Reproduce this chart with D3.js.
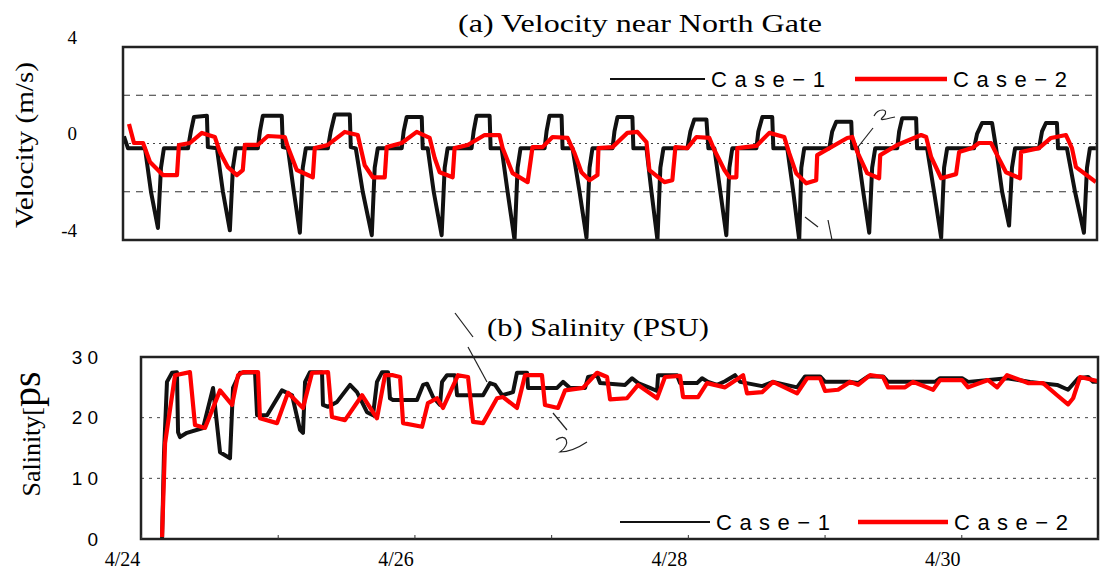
<!DOCTYPE html>
<html>
<head>
<meta charset="utf-8">
<script src="https://cdn.jsdelivr.net/npm/d3@7"></script>
<style>
  body { margin: 0; background: #fff; }
  svg { display: block; }
</style>
</head>
<body>
<script>
// values, x = days after 4/24 00:00
const velCase1 = [[0.007,0.3],[0.036,-0.2],[0.158,-0.2],[0.201,-2.0],[0.251,-3.5],[0.273,-1.0],[0.294,-0.2],
  [0.467,-0.2],[0.488,0.5],[0.510,1.1],[0.603,1.15],[0.610,-0.15],[0.675,-0.2],[0.718,-2.0],[0.768,-3.6],[0.790,-1.0],[0.811,-0.2],
  [0.969,-0.2],[0.984,0.5],[1.005,1.15],[1.141,1.15],[1.149,-0.15],[1.185,-0.2],[1.228,-2.0],[1.271,-3.7],[1.292,-1.0],[1.314,-0.2],
  [1.472,-0.2],[1.493,0.5],[1.522,1.2],[1.630,1.2],[1.637,-0.15],[1.673,-0.2],[1.723,-2.0],[1.788,-3.8],[1.809,-1.0],[1.831,-0.2],
  [2.003,-0.2],[2.017,0.5],[2.039,1.1],[2.147,1.1],[2.154,-0.2],[2.190,-0.2],[2.233,-2.0],[2.290,-3.8],[2.312,-1.0],[2.333,-0.2],
  [2.505,-0.2],[2.520,0.5],[2.541,1.15],[2.635,1.15],[2.642,-0.2],[2.721,-0.2],[2.764,-2.0],[2.814,-4.0],[2.836,-1.0],[2.857,-0.2],
  [3.030,-0.2],[3.044,0.5],[3.065,1.15],[3.152,1.15],[3.159,-0.2],[3.231,-0.2],[3.281,-2.0],[3.331,-3.9],[3.353,-1.0],[3.374,-0.2],
  [3.518,-0.2],[3.532,0.5],[3.554,1.1],[3.661,1.1],[3.668,-0.2],[3.762,-0.2],[3.798,-2.0],[3.841,-4.0],[3.862,-1.0],[3.884,-0.2],
  [4.056,-0.2],[4.078,0.5],[4.106,1.0],[4.193,1.0],[4.207,-0.2],[4.250,-0.2],[4.293,-2.0],[4.336,-3.8],[4.358,-1.0],[4.379,-0.2],
  [4.552,-0.2],[4.566,0.5],[4.595,1.1],[4.666,1.1],[4.674,-0.2],[4.774,-0.2],[4.817,-2.0],[4.860,-4.0],[4.875,-1.0],[4.896,-0.2],
  [5.076,-0.2],[5.097,0.5],[5.126,0.9],[5.234,0.9],[5.241,-0.2],[5.277,-0.2],[5.320,-2.0],[5.363,-3.7],[5.384,-1.0],[5.406,-0.2],
  [5.564,-0.2],[5.578,0.5],[5.600,1.05],[5.700,1.05],[5.707,-0.2],[5.779,-0.2],[5.829,-2.0],[5.880,-3.9],[5.901,-1.0],[5.923,-0.2],
  [6.116,-0.2],[6.138,0.4],[6.174,0.85],[6.246,0.85],[6.275,-0.2],[6.318,-2.0],[6.368,-3.4],[6.389,-1.0],[6.411,-0.2],
  [6.583,-0.2],[6.605,0.5],[6.633,0.85],[6.712,0.85],[6.720,-0.2],[6.784,-0.2],[6.842,-2.0],[6.906,-3.7],[6.928,-1.0],[6.949,-0.2],[6.992,-0.2]];

const velCase2 = [[0.043,0.81],[0.079,0.02],[0.144,0.02],[0.194,-0.77],[0.287,-1.31],[0.388,-1.31],[0.402,-0.06],[0.481,0.02],
  [0.567,0.44],[0.660,0.27],[0.696,-0.35],[0.754,-0.98],[0.818,-1.31],[0.861,-1.1],[0.876,-0.06],[0.969,-0.06],[1.041,0.31],
  [1.163,0.27],[1.185,-0.15],[1.249,-1.1],[1.364,-1.4],[1.378,-0.19],[1.472,-0.06],[1.594,0.48],[1.687,0.35],[1.737,-0.9],
  [1.795,-1.4],[1.881,-1.4],[1.895,-0.15],[2.003,0.02],[2.111,0.48],[2.204,0.23],[2.240,-0.6],[2.276,-1.19],[2.369,-1.4],
  [2.383,-0.19],[2.477,-0.06],[2.599,0.35],[2.706,0.35],[2.728,-0.19],[2.800,-1.23],[2.908,-1.6],[2.943,-0.15],[3.015,-0.15],
  [3.087,0.27],[3.195,0.23],[3.245,-0.4],[3.295,-1.19],[3.353,-1.52],[3.410,-1.31],[3.417,-0.19],[3.518,-0.15],[3.625,0.44],
  [3.697,0.48],[3.762,0.06],[3.783,-1.1],[3.891,-1.6],[3.948,-1.52],[3.970,-0.15],[4.056,-0.19],[4.121,0.27],[4.214,0.23],
  [4.250,-0.27],[4.322,-1.1],[4.358,-1.4],[4.408,-1.4],[4.415,-0.19],[4.552,-0.1],[4.645,0.44],[4.752,0.27],[4.788,-0.4],
  [4.838,-1.23],[4.910,-1.65],[4.982,-1.52],[4.989,-0.48],[5.205,0.23],[5.241,0.27],[5.277,-0.35],[5.348,-1.23],[5.434,-1.44],
  [5.442,-0.48],[5.564,-0.06],[5.736,0.35],[5.772,0.27],[5.808,-0.56],[5.880,-1.44],[5.987,-1.27],[6.009,-0.35],[6.102,-0.19],
  [6.152,0.02],[6.238,0.02],[6.275,-0.4],[6.346,-1.19],[6.447,-1.44],[6.454,-0.35],[6.583,-0.19],[6.669,0.23],[6.777,0.35],
  [6.820,-0.19],[6.849,-0.98],[6.992,-1.6]];

const salCase1 = [[0.154,0],[0.168,14],[0.190,25.9],[0.227,27.4],[0.263,27.5],[0.271,17.6],[0.285,16.8],[0.336,17.5],
  [0.454,18.3],[0.527,24.9],[0.578,14.3],[0.651,13.3],[0.673,24.9],[0.724,27.4],[0.834,27.5],[0.849,20.4],[0.922,20.4],
  [1.031,24.5],[1.105,23.7],[1.163,18],[1.185,17.5],[1.200,25.9],[1.236,27.5],[1.324,27.5],[1.331,22.1],[1.368,21.8],
  [1.434,22.6],[1.529,25.4],[1.580,24.2],[1.653,20.9],[1.697,20.4],[1.726,25.9],[1.763,27.5],[1.807,27.5],[1.821,23.2],
  [1.843,22.9],[2.019,22.9],[2.063,25.4],[2.092,25.6],[2.136,23.4],[2.187,22.1],[2.202,25.9],[2.238,27],[2.297,27],
  [2.312,23.7],[2.502,23.7],[2.553,25.7],[2.590,25.4],[2.641,23.7],[2.721,24.2],[2.750,27.4],[2.824,27.4],[2.831,24.9],
  [3.043,24.9],[3.087,25.9],[3.138,24.9],[3.248,24.9],[3.270,26.7],[3.336,27],[3.358,25.7],[3.541,25.4],[3.592,26.5],
  [3.636,25.7],[3.723,24.9],[3.775,24.4],[3.782,27],[3.921,27],[3.943,25.7],[4.067,25.7],[4.104,26.5],[4.148,25.9],
  [4.214,25.4],[4.272,26.0],[4.345,27],[4.382,25.9],[4.543,25.2],[4.623,25.9],[4.799,25.0],[4.857,26.8],[4.967,26.8],
  [5.004,25.9],[5.187,25.9],[5.245,25.7],[5.318,26.8],[5.428,26.8],[5.464,25.9],[5.808,25.9],[5.845,26.5],[6.006,26.5],
  [6.050,25.9],[6.335,26.5],[6.503,25.9],[6.701,25.4],[6.781,24.6],[6.855,26.5],[6.928,26.7],[6.964,25.9],[7.0,25.9]];

const salCase2 = [[0.154,0.3],[0.176,15.8],[0.249,27],[0.358,27.5],[0.395,18.8],[0.468,18.3],[0.578,24.5],[0.666,22.1],
  [0.710,27],[0.746,27.5],[0.856,27.5],[0.870,19.9],[0.995,19.1],[1.075,24.1],[1.185,21.6],[1.251,27.4],[1.368,27.5],
  [1.397,20.1],[1.492,19.6],[1.617,23.7],[1.726,19.9],[1.785,27],[1.843,27],[1.895,26.7],[1.917,19.1],[2.056,18.5],
  [2.099,22.4],[2.165,23.2],[2.209,21.6],[2.319,27],[2.392,26.7],[2.429,19.3],[2.502,19.1],[2.604,23.2],[2.648,23.4],
  [2.750,21.6],[2.809,27],[2.933,27],[2.955,22.1],[3.050,21.6],[3.102,24.5],[3.233,24.9],[3.336,27.4],[3.409,26.7],
  [3.431,23.0],[3.555,23.2],[3.636,25.4],[3.775,23.2],[3.833,26.7],[3.943,26.9],[3.965,23.4],[4.075,23.4],[4.140,25.7],
  [4.272,25],[4.404,27],[4.433,24],[4.543,24.2],[4.623,25.9],[4.799,24],[4.872,26.5],[4.967,26.5],[5.004,24.4],
  [5.099,24.6],[5.187,25.9],[5.245,25.4],[5.333,27],[5.428,26.7],[5.464,25],[5.589,25],[5.647,25.9],[5.794,24.6],
  [5.845,26.2],[6.006,26.2],[6.050,25],[6.196,26.2],[6.262,25],[6.335,27],[6.488,25.7],[6.598,25.7],[6.701,23.7],
  [6.781,22.2],[6.818,23.2],[6.869,26.7],[6.964,26.2],[7.0,26.0]];

const velTicks = [-4, 0, 4];
const velGrid = [-2, 2];
const salTicks = [0, 10, 20, 30];
const salGrid = [10, 20];
const dayTicks = [0, 1, 2, 3, 4, 5, 6, 7];
const dateTicks = [0, 2, 4, 6];
const dateLabels = ["4/24", "4/26", "4/28", "4/30"];
const caseNames = ["Case\u22121", "Case\u22122"];

const serif = "'Liberation Serif','DejaVu Serif',serif";
const sans = "'Liberation Sans',Arial,sans-serif";

const svg = d3.select("body").append("svg")
  .attr("width", 1101).attr("height", 573);

// scales
const xTop = d3.scaleLinear().domain([0, 7]).range([123, 1097]);
const yTop = d3.scaleLinear().domain([-4, 4]).range([240, 47]);
const xBot = d3.scaleLinear().domain([0, 7]).range([141, 1098]);
const yBot = d3.scaleLinear().domain([0, 30]).range([539, 357]);

function panel(x, y, id) {
  svg.append("clipPath").attr("id", id).append("rect")
    .attr("x", x.range()[0]).attr("y", y.range()[1])
    .attr("width", x.range()[1] - x.range()[0]).attr("height", y.range()[0] - y.range()[1]);
}
panel(xTop, yTop, "clipTop");
panel(xBot, yBot, "clipBot");

// stretched serif text, the scan uses a wide Mincho face
function wideText(x, y, size, len, str, rotate) {
  return svg.append("text")
    .attr("transform", rotate ? `translate(${x},${y}) rotate(-90)` : `translate(${x},${y})`)
    .attr("text-anchor", rotate ? "middle" : "start")
    .attr("textLength", len).attr("lengthAdjust", "spacingAndGlyphs")
    .style("font-family", serif).style("font-size", size + "px")
    .text(str);
}

// ---------- (a) velocity ----------
wideText(458, 32, 26, 364, "(a)  Velocity near North Gate");

svg.append("g").selectAll("line")
  .data(velGrid).join("line")
  .attr("x1", xTop(0)).attr("x2", xTop(7))
  .attr("y1", d => yTop(d)).attr("y2", d => yTop(d))
  .attr("stroke", "#333").attr("stroke-width", 1.2).attr("stroke-dasharray", "7,6");
svg.append("line")
  .attr("x1", xTop(0)).attr("x2", xTop(7))
  .attr("y1", yTop(0)).attr("y2", yTop(0))
  .attr("stroke", "#444").attr("stroke-width", 1).attr("stroke-dasharray", "2,4");

const lineTop = d3.line().x(d => xTop(d[0])).y(d => yTop(d[1]));
svg.append("path").datum(velCase1)
  .attr("clip-path", "url(#clipTop)")
  .attr("d", lineTop).attr("fill", "none")
  .attr("stroke", "#111").attr("stroke-width", 4).attr("stroke-linejoin", "round");
svg.append("path").datum(velCase2)
  .attr("clip-path", "url(#clipTop)")
  .attr("d", lineTop).attr("fill", "none")
  .attr("stroke", "#ff0000").attr("stroke-width", 4.2).attr("stroke-linejoin", "round");

svg.append("rect")
  .attr("x", xTop(0)).attr("y", yTop(4))
  .attr("width", xTop(7) - xTop(0)).attr("height", yTop(-4) - yTop(4))
  .attr("fill", "none").attr("stroke", "#222").attr("stroke-width", 2.5);

const axTop = svg.append("g")
  .attr("transform", `translate(${xTop(0)},-10)`)
  .call(d3.axisLeft(yTop).tickValues(velTicks).tickSize(0).tickPadding(46)
    .tickFormat(d => d < 0 ? "-" + Math.abs(d) : d));
axTop.select(".domain").remove();
axTop.selectAll("text").style("font-family", serif).style("font-size", "19px");

wideText(33, 145, 26, 166, "Velocity (m/s)", true);

// legends
function legend(y, xs) {
  const g = svg.append("g");
  g.append("line").attr("x1", xs[0]).attr("x2", xs[1]).attr("y1", y).attr("y2", y)
    .attr("stroke", "#111").attr("stroke-width", 2.2);
  g.append("text").attr("x", xs[1] + 6).attr("y", y + 8)
    .style("font-family", sans).style("font-size", "22px").style("letter-spacing", "7.5px")
    .text(caseNames[0]);
  g.append("line").attr("x1", xs[2]).attr("x2", xs[3]).attr("y1", y).attr("y2", y)
    .attr("stroke", "#ff0000").attr("stroke-width", 4.5);
  g.append("text").attr("x", xs[3] + 6).attr("y", y + 8)
    .style("font-family", sans).style("font-size", "22px").style("letter-spacing", "7.5px")
    .text(caseNames[1]);
}
legend(79, [610, 705, 855, 947]);

// ---------- (b) salinity ----------
wideText(487, 336, 26, 222, "(b) Salinity (PSU)");

svg.append("g").selectAll("line")
  .data(salGrid).join("line")
  .attr("x1", xBot(0)).attr("x2", xBot(7))
  .attr("y1", d => yBot(d)).attr("y2", d => yBot(d))
  .attr("stroke", "#444").attr("stroke-width", 1).attr("stroke-dasharray", "3,5");

const lineBot = d3.line().x(d => xBot(d[0])).y(d => yBot(d[1]));
svg.append("path").datum(salCase1)
  .attr("clip-path", "url(#clipBot)")
  .attr("d", lineBot).attr("fill", "none")
  .attr("stroke", "#111").attr("stroke-width", 4).attr("stroke-linejoin", "round");
svg.append("path").datum(salCase2)
  .attr("clip-path", "url(#clipBot)")
  .attr("d", lineBot).attr("fill", "none")
  .attr("stroke", "#ff0000").attr("stroke-width", 4.2).attr("stroke-linejoin", "round");

svg.append("rect")
  .attr("x", xBot(0)).attr("y", yBot(30))
  .attr("width", xBot(7) - xBot(0)).attr("height", yBot(0) - yBot(30))
  .attr("fill", "none").attr("stroke", "#222").attr("stroke-width", 2.5);

const ayBot = svg.append("g")
  .attr("transform", `translate(${xBot(0)},0)`)
  .call(d3.axisLeft(yBot).tickValues(salTicks).tickSize(0).tickPadding(38));
ayBot.select(".domain").remove();
ayBot.selectAll("text").style("font-family", sans).style("font-size", "19px").style("letter-spacing", "5px");

// day ticks inside the frame
const axDays = svg.append("g")
  .attr("transform", `translate(0,${yBot(0)})`)
  .call(d3.axisBottom(xBot).tickValues(dayTicks).tickSize(-4).tickFormat(""));
axDays.select(".domain").remove();
axDays.selectAll("line").attr("stroke", "#333");

const axDates = svg.append("g")
  .attr("transform", `translate(-19,${yBot(0)})`)
  .call(d3.axisBottom(xBot).tickValues(dateTicks).tickSize(0).tickPadding(13)
    .tickFormat((d, i) => dateLabels[i]));
axDates.select(".domain").remove();
axDates.selectAll("text").style("font-family", serif).style("font-size", "20px");

const yl = svg.append("text")
  .attr("transform", "translate(40,434) rotate(-90)")
  .attr("text-anchor", "middle")
  .style("font-family", serif).style("font-size", "26px");
yl.append("tspan").text("Salinity[");
yl.append("tspan").style("font-size", "40px").text("ps");

legend(522, [620, 710, 858, 948]);

// hand-written pen marks on the scan
const pen = svg.append("g").attr("fill", "none").attr("stroke", "#222").attr("stroke-width", 1.2);
pen.append("path").attr("d", "M858,147 L873,128");
pen.append("path").attr("d", "M874,116 C878,108 890,108 884,116 C880,120 878,121 895,117");
pen.append("path").attr("d", "M805,217 L818,227");
pen.append("path").attr("d", "M828,220 L832,240");
pen.append("path").attr("d", "M455,313 L473,337");
pen.append("path").attr("d", "M468,347 L487,382");
pen.append("path").attr("d", "M553,413 L567,430");
pen.append("path").attr("d", "M556,440 C566,432 572,444 560,452 C568,452 578,448 587,442");
</script>
</body>
</html>
